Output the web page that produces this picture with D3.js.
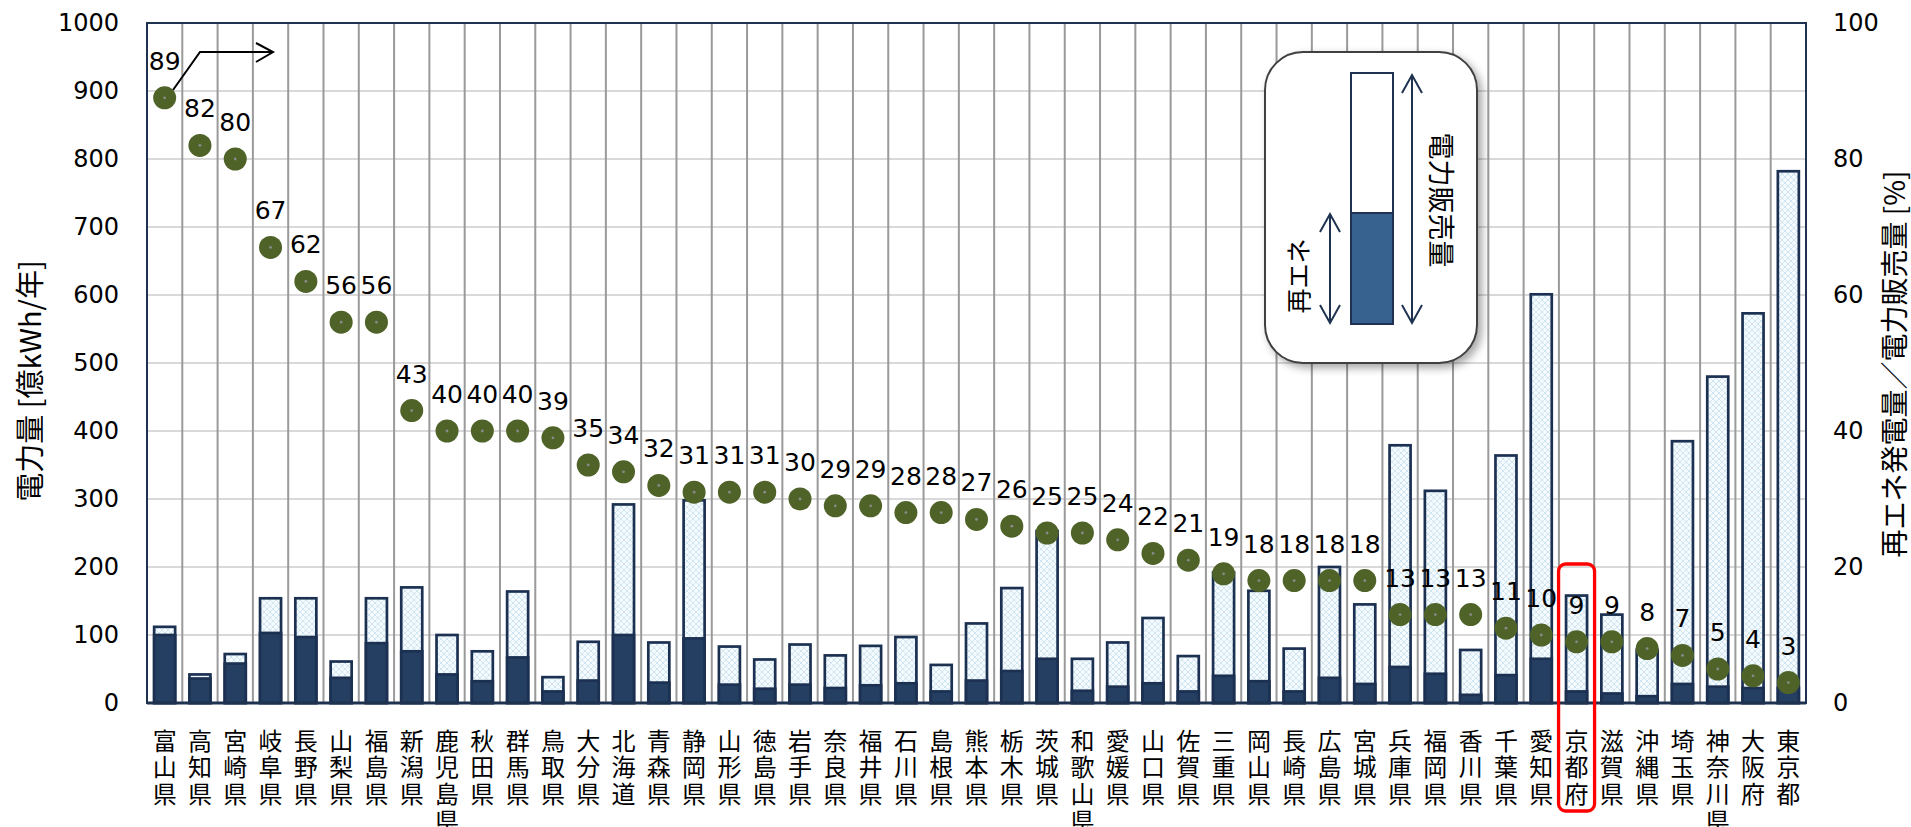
<html>
<head>
<meta charset="utf-8">
<script src="https://d3js.org/d3.v7.min.js"></script>
<style>
  body { margin: 0; background: #fff; }
  text { fill: #000; }
</style>
</head>
<body>
<svg id="chart" width="1911" height="827"></svg>
<script>
// prefectures, sorted by renewable share
const prefs = ["富山県","高知県","宮崎県","岐阜県","長野県","山梨県","福島県","新潟県","鹿児島県","秋田県",
  "群馬県","鳥取県","大分県","北海道","青森県","静岡県","山形県","徳島県","岩手県","奈良県",
  "福井県","石川県","島根県","熊本県","栃木県","茨城県","和歌山県","愛媛県","山口県","佐賀県",
  "三重県","岡山県","長崎県","広島県","宮城県","兵庫県","福岡県","香川県","千葉県","愛知県",
  "京都府","滋賀県","沖縄県","埼玉県","神奈川県","大阪府","東京都"];
// 電力販売量 [億kWh/年]
const sales = [112,42,72,154,154,61,154,170,100,76,
  164,38,90,292,89,298,83,64,86,70,
  84,97,56,117,169,253,65,89,125,69,
  192,165,80,200,145,379,312,78,364,601,
  158,130,78,385,480,573,782];
// 再エネ発電量 [億kWh/年]
const renew = [100,36,58,103,97,37,88,76,42,32,
  67,17,33,100,30,95,27,21,27,22,
  26,29,17,33,47,65,18,24,29,17,
  40,32,17,37,28,53,43,12,41,65,
  17,14,10,28,24,22,22];
// 再エネ発電量／電力販売量 [%]
const ratio = [89,82,80,67,62,56,56,43,40,40,
  40,39,35,34,32,31,31,31,30,29,
  29,28,28,27,26,25,25,24,22,21,
  19,18,18,18,18,13,13,13,11,10,
  9,9,8,7,5,4,3];
const leftTicks = d3.range(0, 1001, 100);
const rightTicks = d3.range(0, 101, 20);

const svg = d3.select("#chart");
const pLeft = 147, pRight = 1806, pTop = 23, pBottom = 703;

const x = d3.scaleBand().domain(prefs).range([pLeft, pRight]);
const yL = d3.scaleLinear().domain([0, 1000]).range([pBottom, pTop]);
const yR = d3.scaleLinear().domain([0, 100]).range([pBottom, pTop]);
const bw = 21;

const defs = svg.append("defs");
const pat = defs.append("pattern").attr("id", "lattice")
  .attr("patternUnits", "userSpaceOnUse").attr("width", 6).attr("height", 6);
pat.append("rect").attr("width", 6).attr("height", 6).attr("fill", "#f4fafd");
pat.append("path").attr("d", "M0,0L6,6M6,0L0,6").attr("stroke", "#cfe5ef").attr("stroke-width", 1);
const flt = defs.append("filter").attr("id", "shadow").attr("x", "-10%").attr("y", "-10%").attr("width", "130%").attr("height", "130%");
flt.append("feDropShadow").attr("dx", 4).attr("dy", 4).attr("stdDeviation", 4).attr("flood-color", "#000").attr("flood-opacity", 0.35);

// horizontal grid
svg.append("g").selectAll("line").data(leftTicks.slice(1)).join("line")
  .attr("x1", pLeft).attr("x2", pRight)
  .attr("y1", d => yL(d)).attr("y2", d => yL(d))
  .attr("stroke", "#d9d9d9").attr("stroke-width", 2);

// vertical separators
svg.append("g").selectAll("line").data(prefs.slice(1)).join("line")
  .attr("x1", d => x(d)).attr("x2", d => x(d))
  .attr("y1", pTop).attr("y2", pBottom)
  .attr("stroke", "#9a9a9a").attr("stroke-width", 2);

// bars: total sales (lattice) then renewable part (dark)
const bars = svg.append("g");
bars.selectAll("rect.tot").data(prefs).join("rect").attr("class", "tot")
  .attr("x", d => x(d) + x.bandwidth() / 2 - bw / 2)
  .attr("y", (d, i) => yL(sales[i]))
  .attr("width", bw)
  .attr("height", (d, i) => yL(0) - yL(sales[i]))
  .attr("fill", "url(#lattice)").attr("stroke", "#1c3152").attr("stroke-width", 2.7);
bars.selectAll("rect.ren").data(prefs).join("rect").attr("class", "ren")
  .attr("x", d => x(d) + x.bandwidth() / 2 - bw / 2)
  .attr("y", (d, i) => yL(renew[i]))
  .attr("width", bw)
  .attr("height", (d, i) => yL(0) - yL(renew[i]))
  .attr("fill", "#253f62").attr("stroke", "#1c3152").attr("stroke-width", 2.7);

// plot frame
svg.append("rect").attr("x", pLeft).attr("y", pTop).attr("width", pRight - pLeft).attr("height", pBottom - pTop)
  .attr("fill", "none").attr("stroke", "#1f3350").attr("stroke-width", 2);
svg.append("line").attr("x1", pLeft).attr("x2", pRight).attr("y1", pBottom).attr("y2", pBottom)
  .attr("stroke", "#1f3350").attr("stroke-width", 3);

// axes
const fontNum = "'DejaVu Sans', Verdana, sans-serif";
const ax1 = svg.append("g").attr("transform", `translate(${pLeft},0)`)
  .call(d3.axisLeft(yL).tickValues(leftTicks).tickFormat(d3.format("d")).tickSize(0).tickPadding(28));
const ax2 = svg.append("g").attr("transform", `translate(${pRight},0)`)
  .call(d3.axisRight(yR).tickValues(rightTicks).tickFormat(d3.format("d")).tickSize(0).tickPadding(27));
[ax1, ax2].forEach(a => {
  a.select(".domain").remove();
  a.selectAll("text").style("font-family", fontNum).style("font-size", "24px").attr("fill", "#000");
});

// ratio dots
const dots = svg.append("g");
dots.selectAll("circle.dot").data(prefs).join("circle").attr("class", "dot")
  .attr("cx", d => x(d) + x.bandwidth() / 2)
  .attr("cy", (d, i) => yR(ratio[i]))
  .attr("r", 11.5).attr("fill", "#4f6228");
dots.selectAll("circle.pin").data(prefs).join("circle").attr("class", "pin")
  .attr("cx", d => x(d) + x.bandwidth() / 2)
  .attr("cy", (d, i) => yR(ratio[i]))
  .attr("r", 1.4).attr("fill", "#8a8a8a");
dots.selectAll("text").data(prefs).join("text")
  .attr("x", d => x(d) + x.bandwidth() / 2)
  .attr("y", (d, i) => yR(ratio[i]) - 28)
  .attr("text-anchor", "middle")
  .style("font-family", fontNum).style("font-size", "25px")
  .text((d, i) => ratio[i]);

// x labels, one character per line
const cjk = "'Noto Sans CJK JP', 'Noto Sans CJK SC', sans-serif";
const chars = prefs.flatMap(p => Array.from(p).map((c, k) => ({ p, c, k })));
svg.append("g").selectAll("text").data(chars).join("text")
  .attr("x", d => x(d.p) + x.bandwidth() / 2)
  .attr("y", d => 739 + d.k * 26.7)
  .attr("text-anchor", "middle").attr("dominant-baseline", "central")
  .style("font-family", cjk).style("font-size", "24px")
  .text(d => d.c);

// axis titles
svg.append("text").attr("transform", "translate(28,381) rotate(-90)")
  .attr("text-anchor", "middle").attr("dominant-baseline", "central")
  .style("font-family", cjk).style("font-size", "29px")
  .text("電力量 [億kWh/年]");
svg.append("text").attr("transform", "translate(1893,364) rotate(-90)")
  .attr("text-anchor", "middle").attr("dominant-baseline", "central")
  .style("font-family", cjk).style("font-size", "28px")
  .text("再エネ発電量／電力販売量 [%]");

// legend box
const lg = svg.append("g");
lg.append("rect").attr("x", 1265).attr("y", 52).attr("width", 212).attr("height", 311)
  .attr("rx", 38).attr("ry", 38).attr("fill", "#fff").attr("stroke", "#404040").attr("stroke-width", 2)
  .attr("filter", "url(#shadow)");
lg.append("rect").attr("x", 1351).attr("y", 73).attr("width", 42).attr("height", 140)
  .attr("fill", "#fff").attr("stroke", "#1f3350").attr("stroke-width", 2);
lg.append("rect").attr("x", 1351).attr("y", 213).attr("width", 42).attr("height", 111)
  .attr("fill", "#37618f").attr("stroke", "#1f3350").attr("stroke-width", 2);
const dblArrow = (ax, y1, y2) => {
  lg.append("path")
    .attr("d", `M${ax},${y1}V${y2}M${ax - 10},${y1 + 18}L${ax},${y1}L${ax + 10},${y1 + 18}M${ax - 10},${y2 - 18}L${ax},${y2}L${ax + 10},${y2 - 18}`)
    .attr("fill", "none").attr("stroke", "#1f3350").attr("stroke-width", 2);
};
dblArrow(1330, 214, 323);
dblArrow(1412, 75, 323);
lg.append("text").attr("transform", "translate(1297,276) rotate(-90)")
  .attr("text-anchor", "middle").attr("dominant-baseline", "central")
  .style("font-family", cjk).style("font-size", "25px").text("再エネ");
lg.append("text").attr("transform", "translate(1442,200) rotate(90)")
  .attr("text-anchor", "middle").attr("dominant-baseline", "central")
  .style("font-family", cjk).style("font-size", "27px").text("電力販売量");

// arrow pointing to the right axis
svg.append("path").attr("d", "M173,90L200,52H273M256,43L273,52L256,62")
  .attr("fill", "none").attr("stroke", "#000").attr("stroke-width", 2);

// highlight 京都府
const kx = x("京都府") + x.bandwidth() / 2;
svg.append("rect").attr("x", kx - 18).attr("y", 564).attr("width", 36).attr("height", 247)
  .attr("rx", 7).attr("fill", "none").attr("stroke", "#ff0000").attr("stroke-width", 3.3);
</script>
</body>
</html>
